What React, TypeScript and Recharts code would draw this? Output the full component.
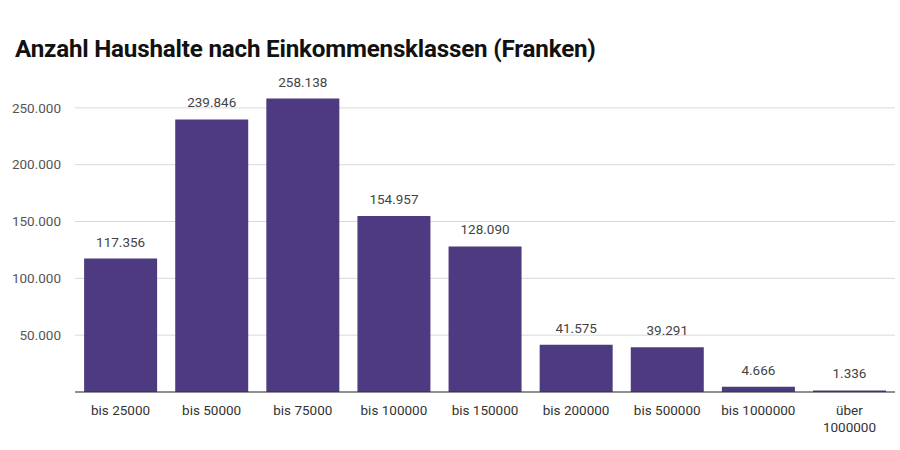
import { BarChart, Bar, XAxis, YAxis, CartesianGrid, LabelList } from 'recharts'

const categories = ['bis 25000', 'bis 50000', 'bis 75000', 'bis 100000', 'bis 150000', 'bis 200000', 'bis 500000', 'bis 1000000', 'über 1000000']
const households = [117356, 239846, 258138, 154957, 128090, 41575, 39291, 4666, 1336]
const yTicks = [0, 50000, 100000, 150000, 200000, 250000]

const data = categories.map((name, i) => ({ name, value: households[i] }))

const fmt = (v: number) => String(Math.round(v)).replace(/\B(?=(\d{3})+(?!\d))/g, '.')

const FONT = 'Roboto, "Noto Sans", sans-serif'

function XTick({ x, y, payload }: any) {
  const label: string = payload.value
  const lines = label.length > 11 ? label.split(' ') : [label]
  return (
    <text x={x} y={y + 15} textAnchor="middle" fill="#333" fontSize={13.5} fontFamily={FONT}>
      {lines.map((l, i) => (
        <tspan key={i} x={x} dy={i === 0 ? 0 : 17}>{l}</tspan>
      ))}
    </text>
  )
}

export default function App() {
  return (
    <div style={{ position: 'absolute', left: 0, top: 0, width: 900, height: 450, background: '#fff', fontFamily: FONT }}>
      <div style={{ position: 'absolute', left: 15, top: 35, fontSize: 24.2, fontWeight: 700, color: '#111', letterSpacing: -0.2 }}>
        Anzahl Haushalte nach Einkommensklassen (Franken)
      </div>
      <BarChart width={900} height={450} data={data} margin={{ top: 84, right: 5, bottom: 0, left: 0 }} barCategoryGap="10%">
        <CartesianGrid vertical={false} stroke="#d9d9d9" horizontalValues={yTicks} />
        <XAxis dataKey="name" interval={0} tickLine={false} axisLine={{ stroke: '#333' }} tick={<XTick />} height={58} />
        <YAxis
          width={75}
          domain={[0, 271000]}
          ticks={yTicks}
          allowDataOverflow
          axisLine={false}
          tickLine={false}
          tickFormatter={(v: number) => (v === 0 ? '' : fmt(v))}
          tick={{ fill: '#555', fontSize: 13.5, fontFamily: FONT }}
          tickMargin={8}
        />
        <Bar dataKey="value" fill="#4e3a80" isAnimationActive={false}>
          <LabelList dataKey="value" position="top" offset={12} formatter={(v: any) => fmt(Number(v))}
            style={{ fill: '#444', fontSize: 13.5, fontFamily: FONT }} />
        </Bar>
      </BarChart>
    </div>
  )
}
